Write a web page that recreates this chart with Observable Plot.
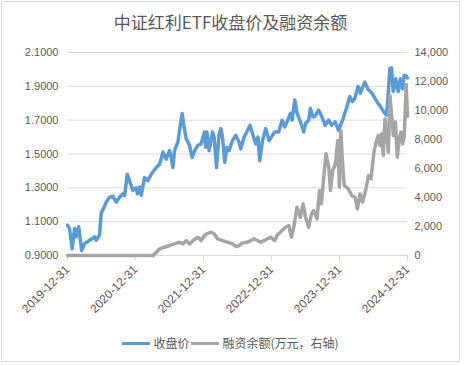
<!DOCTYPE html>
<html><head><meta charset="utf-8">
<script src="https://cdn.jsdelivr.net/npm/d3@7"></script>
<script src="https://cdn.jsdelivr.net/npm/@observablehq/plot@0.6"></script>
<style>
body{margin:0;background:#fff;}
#wrap{position:relative;width:465px;height:365px;overflow:hidden;font-family:"Noto Sans CJK SC","Noto Sans",sans-serif;color:#595959;}
#frame{position:absolute;left:1px;top:1px;width:457px;height:359px;border:1px solid #d9d9d9;}
#title{position:absolute;top:9px;left:0;width:461px;text-align:center;font-size:17px;line-height:26px;color:#595959;}
#chart{position:absolute;left:0;top:0;}
#legend{position:absolute;top:334px;left:0;width:461px;display:flex;justify-content:center;align-items:center;font-size:12px;line-height:18px;color:#595959;}
.sw{display:inline-block;width:28px;height:3px;margin-right:3px;}
.it{display:flex;align-items:center;margin:0 1px;}
</style></head>
<body><div id="wrap"><div id="frame"></div><div id="chart"></div><div id="title">中证红利ETF收盘价及融资余额</div>
<div id="legend"><span class="it"><span class="sw" style="background:#5b9bd5"></span>收盘价</span><span class="it"><span class="sw" style="background:#a5a5a5"></span>融资余额(万元，右轴)</span></div></div>
<script>
const priceDates = ["2019-12-31","2020-01-11","2020-01-25","2020-02-07","2020-02-16","2020-02-29","2020-03-08","2020-03-16","2020-04-01","2020-04-28","2020-05-25","2020-06-02","2020-06-20","2020-06-29","2020-07-12","2020-07-26","2020-08-13","2020-08-31","2020-09-18","2020-10-06","2020-10-24","2020-11-02","2020-11-16","2020-11-29","2020-12-16","2021-01-03","2021-01-10","2021-01-21","2021-01-30","2021-02-17","2021-03-07","2021-03-25","2021-04-21","2021-05-09","2021-05-27","2021-06-13","2021-07-01","2021-07-10","2021-07-19","2021-07-28","2021-08-15","2021-08-24","2021-09-07","2021-09-16","2021-09-29","2021-10-17","2021-10-31","2021-11-13","2021-11-30","2021-12-18","2022-01-05","2022-01-12","2022-01-18","2022-01-30","2022-02-17","2022-02-26","2022-03-11","2022-03-25","2022-04-03","2022-04-12","2022-04-24","2022-05-05","2022-05-17","2022-06-05","2022-06-22","2022-07-10","2022-07-19","2022-08-06","2022-08-20","2022-09-07","2022-09-20","2022-10-08","2022-10-20","2022-10-29","2022-11-13","2022-11-30","2022-12-18","2023-01-05","2023-01-18","2023-02-08","2023-02-26","2023-03-12","2023-03-25","2023-04-12","2023-04-21","2023-05-05","2023-05-18","2023-06-05","2023-06-22","2023-07-02","2023-07-19","2023-07-28","2023-08-10","2023-08-20","2023-09-10","2023-09-28","2023-10-16","2023-11-03","2023-11-20","2023-12-09","2023-12-26","2024-01-17","2024-02-07","2024-02-25","2024-03-10","2024-03-23","2024-04-10","2024-04-22","2024-05-15","2024-06-03","2024-06-20","2024-07-08","2024-07-26","2024-08-13","2024-08-31","2024-09-09","2024-09-18","2024-09-27","2024-10-06","2024-10-15","2024-10-29","2024-11-11","2024-11-23","2024-12-04","2024-12-13","2024-12-25","2024-12-31"];
const priceValues = [1.08,1.06,0.94,1.06,1.01,1.07,1.00,0.93,0.97,0.99,1.01,0.99,1.02,1.15,1.18,1.215,1.245,1.25,1.215,1.245,1.265,1.255,1.38,1.34,1.285,1.30,1.265,1.305,1.255,1.36,1.343,1.38,1.42,1.44,1.51,1.47,1.52,1.48,1.42,1.52,1.57,1.64,1.74,1.67,1.59,1.55,1.48,1.52,1.55,1.56,1.63,1.54,1.63,1.52,1.63,1.60,1.42,1.62,1.65,1.60,1.45,1.54,1.52,1.58,1.61,1.57,1.53,1.60,1.63,1.67,1.62,1.56,1.60,1.46,1.58,1.65,1.58,1.61,1.63,1.63,1.70,1.66,1.69,1.74,1.70,1.82,1.74,1.69,1.63,1.68,1.70,1.77,1.72,1.72,1.76,1.72,1.67,1.70,1.67,1.69,1.64,1.70,1.77,1.84,1.81,1.83,1.90,1.86,1.925,1.88,1.865,1.83,1.80,1.77,1.74,1.73,1.85,2.005,2.01,1.87,1.945,1.87,1.945,1.885,1.965,1.96,1.95];
const finDates = ["2019-12-31","2021-04-05","2021-04-12","2021-05-09","2021-06-04","2021-07-01","2021-07-28","2021-08-24","2021-09-11","2021-09-29","2021-10-17","2021-11-04","2021-11-30","2021-12-18","2022-01-05","2022-01-18","2022-02-08","2022-02-26","2022-03-16","2022-04-12","2022-05-09","2022-06-05","2022-06-22","2022-07-10","2022-07-28","2022-08-24","2022-09-11","2022-09-29","2022-10-17","2022-11-04","2022-11-21","2022-12-10","2022-12-27","2023-01-18","2023-01-30","2023-02-26","2023-03-16","2023-04-03","2023-04-17","2023-04-30","2023-05-17","2023-06-04","2023-06-19","2023-07-02","2023-07-19","2023-08-03","2023-08-15","2023-09-02","2023-09-15","2023-09-25","2023-10-08","2023-10-20","2023-11-04","2023-11-13","2023-11-25","2023-12-10","2023-12-22","2023-12-31","2024-01-08","2024-01-16","2024-01-26","2024-02-17","2024-03-06","2024-03-24","2024-04-06","2024-04-20","2024-05-04","2024-05-22","2024-06-04","2024-06-18","2024-07-04","2024-07-15","2024-07-27","2024-08-05","2024-08-14","2024-08-23","2024-09-01","2024-09-10","2024-09-19","2024-09-28","2024-10-07","2024-10-16","2024-10-27","2024-11-06","2024-11-17","2024-11-26","2024-12-05","2024-12-14","2024-12-24","2024-12-31"];
const finValues = [0,0,100,460,570,690,800,920,800,1030,800,1030,1260,1030,1380,1500,1610,1500,1150,1030,920,800,620,690,870,920,1030,1150,1030,920,1030,1150,1260,1030,1380,1720,1950,2070,1260,1950,3330,2640,3560,2640,1950,2870,3100,2530,4480,3560,5400,7010,6090,4480,5860,6320,7930,4710,8620,6500,4830,4600,4140,4020,3220,4250,3680,4600,5520,5290,7130,7810,8280,7590,8390,6900,9430,8510,7130,11030,9660,8280,9200,6780,8050,8510,7700,8280,11800,9600];
const leftTicks = [0.9,1.1,1.3,1.5,1.7,1.9,2.1];
const rightTicks = [0,2000,4000,6000,8000,10000,12000,14000];
const xTickLabels = ["2019-12-31","2020-12-31","2021-12-31","2022-12-31","2023-12-31","2024-12-31"];

const yMin = leftTicks[0], yMax = leftTicks[leftTicks.length-1], rMax = rightTicks[rightTicks.length-1];
const toY = v => yMin + v * (yMax - yMin) / rMax;
const fromY = y => Math.round((y - yMin) * rMax / (yMax - yMin));
const price = priceDates.map((d,i)=>({date:new Date(d), value:priceValues[i]}));
const fin = finDates.map((d,i)=>({date:new Date(d), value:finValues[i]}));
const xTicks = xTickLabels.map(d=>new Date(d));

const chart = Plot.plot({
  width:465, height:365, marginTop:52, marginBottom:110, marginLeft:67, marginRight:58,
  style:{fontFamily:"'Liberation Sans', Arial, sans-serif", fontSize:"11px", color:"#595959", background:"transparent"},
  x:{type:"utc", domain:[xTicks[0], xTicks[xTicks.length-1]]},
  y:{domain:[yMin, yMax]},
  marks:[
    Plot.gridY(leftTicks, {stroke:"#d9d9d9", strokeOpacity:1}),
    Plot.ruleY([yMin], {stroke:"#d9d9d9"}),
    Plot.axisY(leftTicks, {anchor:"left", tickSize:0, tickPadding:9, tickFormat:d3.format(".4f"), label:null, fill:"#595959"}),
    Plot.axisY(rightTicks.map(toY), {anchor:"right", tickSize:0, tickPadding:7, tickFormat:d=>d3.format(",")(fromY(d)), label:null, fill:"#595959"}),
    Plot.axisX(xTicks, {tickSize:6, tickPadding:6, tickRotate:-45, fontSize:12, tickFormat:d3.utcFormat("%Y-%m-%d"), label:null, stroke:"#d9d9d9", fill:"#595959"}),
    Plot.lineY(price, {x:"date", y:"value", stroke:"#5b9bd5", strokeWidth:3.5, strokeLinejoin:"round"}),
    Plot.lineY(fin, {x:"date", y:d=>toY(d.value), stroke:"#a5a5a5", strokeWidth:3.5, strokeLinejoin:"round"})
  ]
});
document.getElementById("chart").appendChild(chart);
</script></body></html>
